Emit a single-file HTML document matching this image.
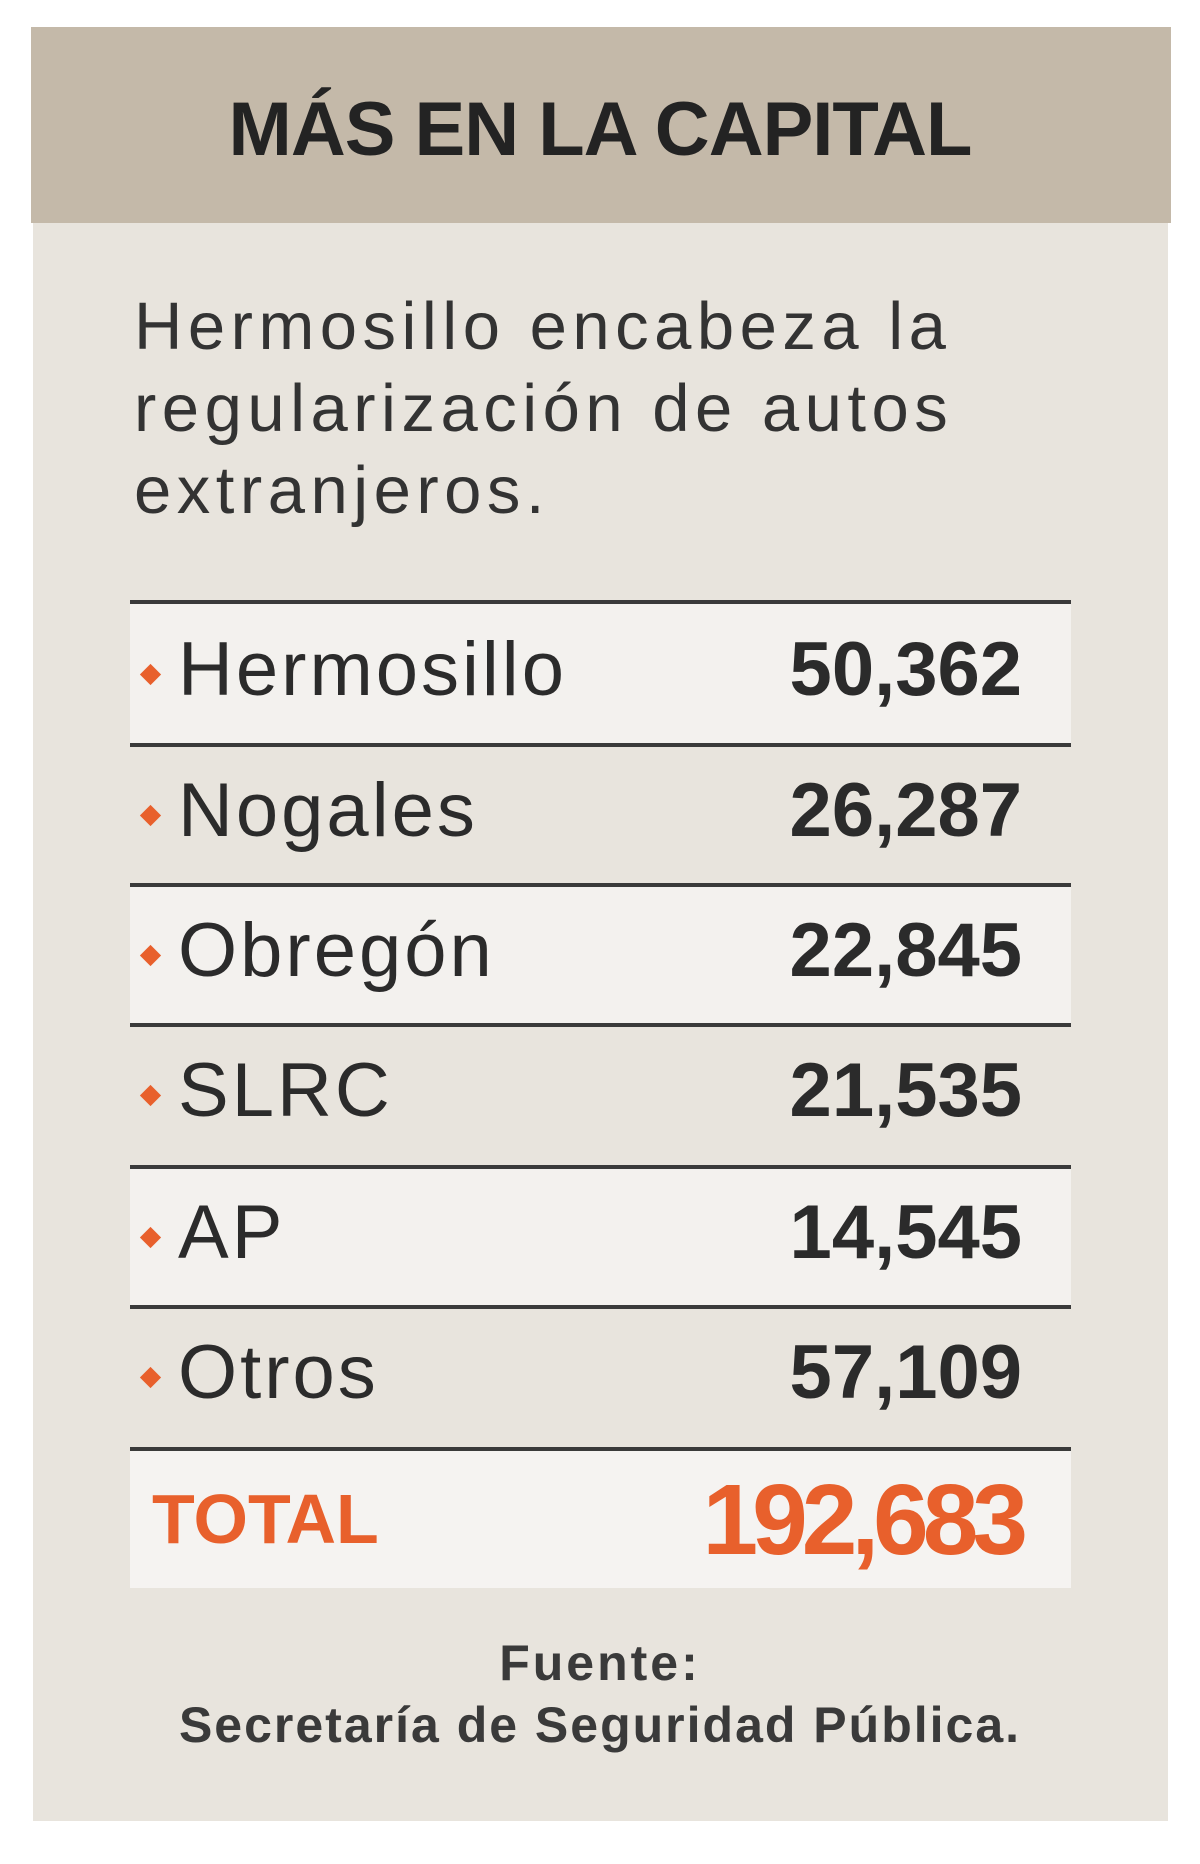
<!DOCTYPE html>
<html><head><meta charset="utf-8"><style>
body{margin:0;width:1200px;height:1864px;background:#fff;position:relative;overflow:hidden;font-family:"Liberation Sans",sans-serif;color:#2b2b2b}
.card{position:absolute;left:33px;top:27px;width:1135px;height:1794px;background:#e8e4dd}
.head{position:absolute;left:31px;top:27px;width:1140px;height:196px;background:#c4b9a9}
.t{position:absolute;white-space:nowrap}
.title{left:0;width:1200px;text-align:center;top:86px;font-size:76px;font-weight:bold;color:#232323;letter-spacing:-1px}
.desc{left:134px;font-size:67px;color:#333;letter-spacing:5.5px}
.line{position:absolute;left:130px;width:941px;height:4px;background:#3a3a3a}
.row{position:absolute;left:130px;width:941px}
.nm{position:absolute;left:48px;font-size:76px;color:#2b2b2b;letter-spacing:3px}
.val{position:absolute;right:49px;font-size:76px;font-weight:bold;color:#2b2b2b}
.dia{position:absolute;left:13px;width:15px;height:15px;background:#e8602c;transform:rotate(45deg)}
</style></head><body>
<div class="card"></div>
<div class="head"></div>
<div class="t title">MÁS EN LA CAPITAL</div>
<div class="t desc" style="top:288px">Hermosillo encabeza la</div>
<div class="t desc" style="top:370px">regularización de autos</div>
<div class="t desc" style="top:452px">extranjeros.</div>

<div class="row" style="top:604px;height:141px;background:#f3f1ee"><div class="dia" style="top:63px"></div><div class="t nm" style="top:22px">Hermosillo</div><div class="t val" style="top:22px">50,362</div></div>
<div class="row" style="top:745px;height:140px"><div class="dia" style="top:63px"></div><div class="t nm" style="top:22px">Nogales</div><div class="t val" style="top:22px">26,287</div></div>
<div class="row" style="top:885px;height:140px;background:#f3f1ee"><div class="dia" style="top:63px"></div><div class="t nm" style="top:22px">Obregón</div><div class="t val" style="top:22px">22,845</div></div>
<div class="row" style="top:1025px;height:142px"><div class="dia" style="top:63px"></div><div class="t nm" style="top:22px">SLRC</div><div class="t val" style="top:22px">21,535</div></div>
<div class="row" style="top:1167px;height:140px;background:#f3f1ee"><div class="dia" style="top:63px"></div><div class="t nm" style="top:22px">AP</div><div class="t val" style="top:22px">14,545</div></div>
<div class="row" style="top:1307px;height:142px"><div class="dia" style="top:63px"></div><div class="t nm" style="top:22px">Otros</div><div class="t val" style="top:22px">57,109</div></div>
<div class="row" style="top:1449px;height:139px;background:#f5f3f1"><div class="t" style="left:22px;top:30px;font-size:70px;font-weight:bold;color:#e8602c">TOTAL</div><div class="t" style="right:49px;top:14px;font-size:100px;font-weight:bold;color:#e8602c;letter-spacing:-6px">192,683</div></div>

<div class="line" style="top:600px"></div>
<div class="line" style="top:743px"></div>
<div class="line" style="top:883px"></div>
<div class="line" style="top:1023px"></div>
<div class="line" style="top:1165px"></div>
<div class="line" style="top:1305px"></div>
<div class="line" style="top:1447px"></div>

<div class="t" style="left:0;width:1200px;text-align:center;top:1634px;font-size:50px;font-weight:bold;color:#3a3a3a;letter-spacing:3px">Fuente:</div>
<div class="t" style="left:0;width:1200px;text-align:center;top:1696px;font-size:50px;font-weight:bold;color:#3a3a3a;letter-spacing:2px">Secretaría de Seguridad Pública.</div>
</body></html>
